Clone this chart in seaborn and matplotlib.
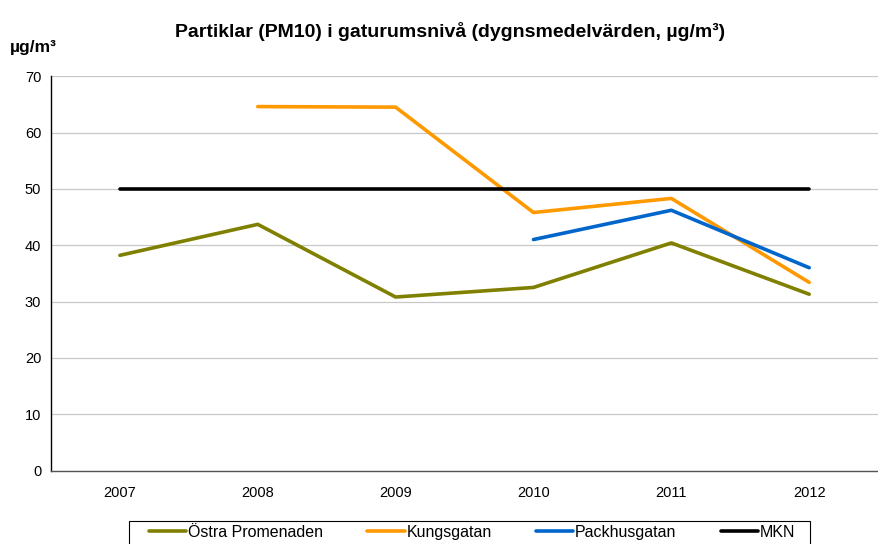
import numpy as np
import pandas as pd
import matplotlib
matplotlib.use("Agg")
import matplotlib.pyplot as plt
from matplotlib.patches import Rectangle
import seaborn as sns

years = ["2007", "2008", "2009", "2010", "2011", "2012"]
ostra = [38.2, 43.7, 30.8, 32.5, 40.4, 31.3]
kungsgatan = [np.nan, 64.6, 64.5, 45.8, 48.3, 33.4]
packhusgatan = [np.nan, np.nan, np.nan, 41.0, 46.2, 36.0]
mkn = [50, 50, 50, 50, 50, 50]

series_names = ["Östra Promenaden", "Kungsgatan", "Packhusgatan", "MKN"]
colors = ["#808000", "#FF9900", "#0066CC", "#000000"]

rows = []
for name, vals in zip(series_names, [ostra, kungsgatan, packhusgatan, mkn]):
    for i, v in enumerate(vals):
        if not np.isnan(v):
            rows.append({"x": i, "value": v, "serie": name})
df = pd.DataFrame(rows)

sns.set_style("white")
plt.rcParams["font.family"] = ["Liberation Sans", "DejaVu Sans"]
plt.rcParams["text.color"] = "black"
plt.rcParams["xtick.color"] = "black"
plt.rcParams["ytick.color"] = "black"

fig = plt.figure(figsize=(8.79, 5.44), dpi=100)
ax = fig.add_axes([0.058, 0.135, 0.941, 0.725])

sns.lineplot(data=df, x="x", y="value", hue="serie", hue_order=series_names,
             palette=colors, linewidth=2.6, ax=ax, legend=True, sort=True)

ax.set_xlim(-0.5, 5.5)
ax.set_ylim(0, 70)
ax.set_yticks(range(0, 71, 10))
ax.set_xticks(range(len(years)))
ax.set_xticklabels(years)
ax.set_xticks(np.arange(-0.5, 5.6, 1), minor=True)
ax.tick_params(axis="x", which="major", length=0, labelsize=10.5, pad=11)
ax.tick_params(axis="x", which="minor", length=4, direction="out", color="#333333")
ax.tick_params(axis="y", length=4, direction="out", labelsize=10.5, pad=3, color="#333333")
ax.yaxis.grid(True, color="#c8c8c8", linewidth=0.9)
ax.set_axisbelow(True)
ax.set_xlabel("")
ax.set_ylabel("")

for s in ["top", "right"]:
    ax.spines[s].set_visible(False)
ax.spines["left"].set_color("#000000")
ax.spines["bottom"].set_color("#555555")
ax.spines["left"].set_linewidth(1.0)
ax.spines["bottom"].set_linewidth(1.0)

fig.text(0.512, 0.942, "Partiklar (PM10) i gaturumsnivå (dygnsmedelvärden, µg/m³)",
         ha="center", va="center", fontsize=14, fontweight="bold")
fig.text(0.011, 0.913, "µg/m³", ha="left", va="center", fontsize=12.5, fontweight="bold")

handles, labels = ax.get_legend_handles_labels()
ax.legend_.remove()
leg = fig.legend(handles, labels, loc="upper center", bbox_to_anchor=(0.537, 0.043),
                 ncol=4, frameon=False, fontsize=11.5, handlelength=2.35,
                 handletextpad=0.1, columnspacing=2.77, borderpad=0.25, borderaxespad=0.0)

# legend frame like the original (wider than the entries)
frame = Rectangle((129 / 879, -0.01), (810 - 129) / 879, 0.01 + 1 - 521 / 544,
                  transform=fig.transFigure, fill=False, edgecolor="black",
                  linewidth=0.8, clip_on=False)
fig.patches.append(frame)

fig.savefig("out.png", dpi=100)
